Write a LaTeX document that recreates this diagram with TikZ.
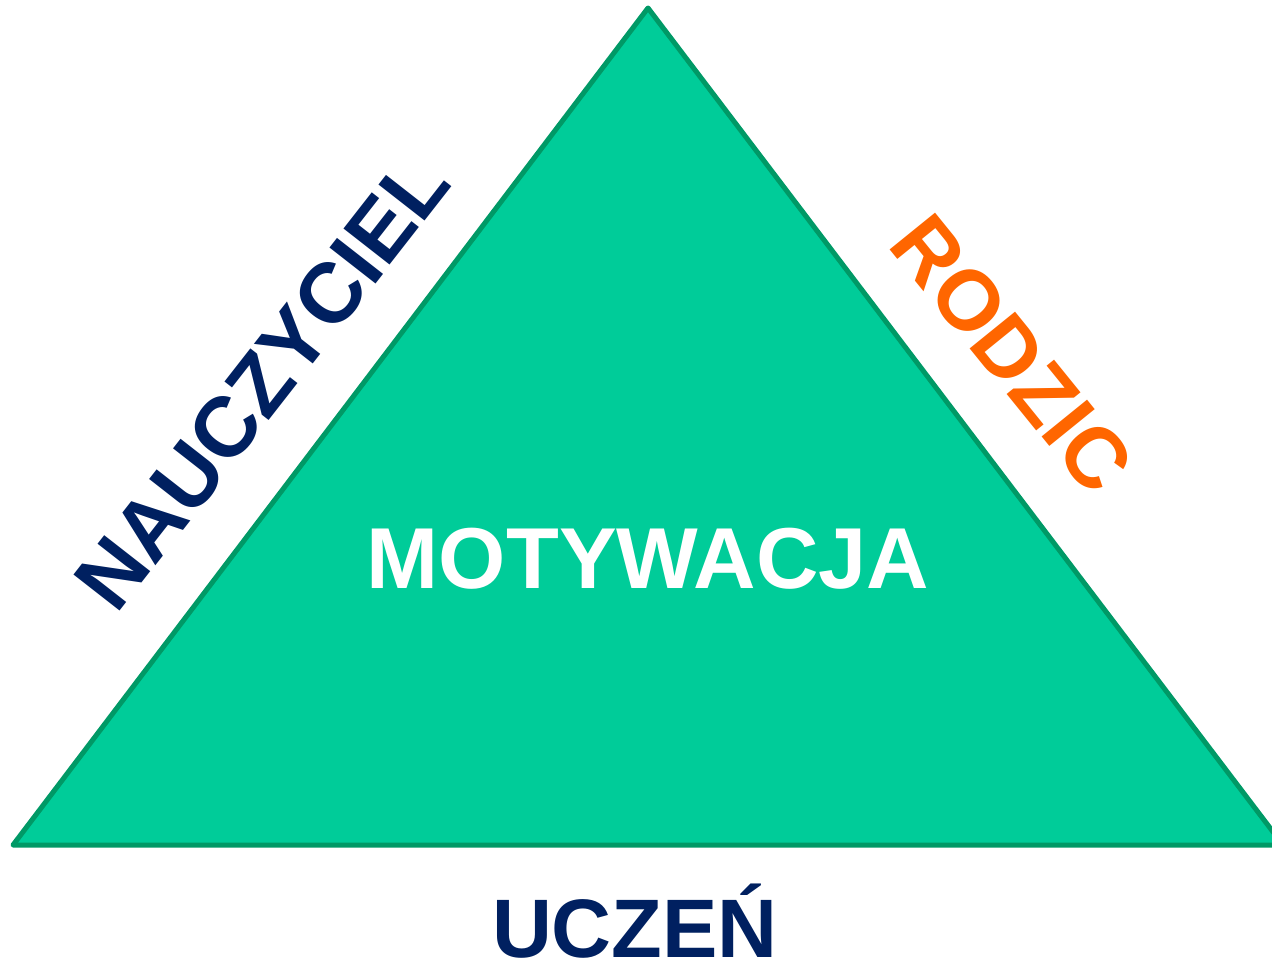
\documentclass[tikz,border=0pt]{standalone}
\usepackage{fontspec}
\setmainfont{Liberation Sans}
\usepackage{tikz}
\usetikzlibrary{calc}
\usetikzlibrary{positioning}

\definecolor{fillgreen}{RGB}{0,204,153}
\definecolor{edgegreen}{RGB}{0,153,102}
\definecolor{navy}{RGB}{0,32,96}
\definecolor{orange}{RGB}{255,102,0}

\begin{document}
\begin{tikzpicture}[
	x=1pt, y=-1pt,
  word/.style = {inner sep=0pt, font=\fontsize{85}{100}\selectfont\bfseries},
  side/.style = {draw=edgegreen, fill=fillgreen, line width=5pt, line join=round}
  ]
	\useasboundingbox (0,0) rectangle (1272,964);

	\coordinate (@1) at (648,8);
	\coordinate (@2) at (13,845);
	\coordinate (@3) at (1283,845);

	\draw[side] (@1) -- (@2) -- (@3) -- cycle;

	\node[word,text=white,anchor=base,font=\fontsize{86.5}{100}\selectfont\bfseries] (motywacja) at (648,588) {MOTYWACJA};
	\node[word,text=navy,anchor=base,font=\fontsize{83}{100}\selectfont\bfseries] (uczen) at (635,957) {UCZEŃ};
	\node[word,text=navy,rotate=52] (nauczyciel) at (262,382) {NAUCZYCIEL};
	\node[word,text=orange,rotate=-51] (rodzic) at (1012,354) {RODZIC};

\end{tikzpicture}
\end{document}
